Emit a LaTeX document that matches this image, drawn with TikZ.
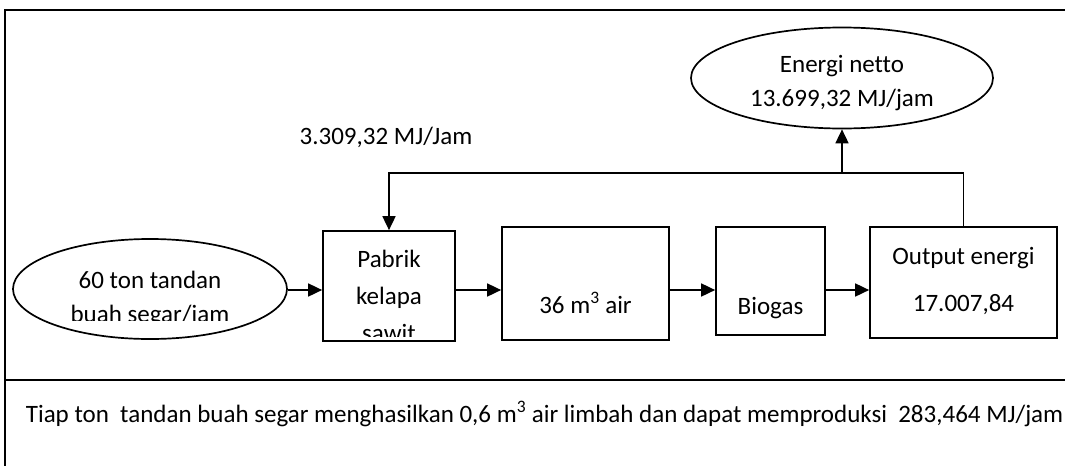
\documentclass[tikz,border=0pt]{standalone}
\usepackage{fontspec}
\setmainfont{Carlito}[Ligatures=NoCommon]
\usetikzlibrary{arrows.meta, shapes.geometric}

\begin{document}
\begin{tikzpicture}[x=1pt, y=-1pt, line width=1.7pt,
    every node/.style={font=\fontsize{25}{36}\selectfont, inner sep=0pt},
    teks/.style={anchor=base},
    kotak/.style={draw, rectangle},
    bulat/.style={draw, ellipse},
    panah/.style={-{Triangle[length=14pt, width=13pt]}}]
  \useasboundingbox (0,0) rectangle (1065,466);

  \draw (1065,10) -- (5,10) -- (5,466);
  \draw (5,380) -- (1065,380);

  \node[bulat, minimum width=274pt, minimum height=100pt] (tbs) at (150,289) {};
  \node[kotak, minimum width=132pt, minimum height=110pt] (pabrik) at (389,286) {};
  \node[kotak, minimum width=167pt, minimum height=113pt] (air) at (585.5,283.5) {};
  \node[kotak, minimum width=109pt, minimum height=108pt] (biogas) at (770.5,281) {};
  \node[kotak, minimum width=187pt, minimum height=111pt] (output) at (963.5,282.5) {};
  \node[bulat, minimum width=302pt, minimum height=101pt] (netto) at (842,78) {};

  \node[teks] (tbs-1) at (150,288) {60 ton tandan};
  \node[teks] (pabrik-1) at (389,267) {Pabrik};
  \node[teks] (pabrik-2) at (389,304) {kelapa};
  \begin{scope}
    \clip (20,240) rectangle (460,320);
    \node[teks] (tbs-2) at (150,322) {buah segar/jam};
  \end{scope}
  \begin{scope}
    \clip (330,320) rectangle (450,336);
    \node[teks] (pabrik-3) at (389,341) {sawit};
  \end{scope}
  \node[teks] (air-1) at (585.5,313) {36 m\textsuperscript{3} air};
  \node[teks] (biogas-1) at (770.5,314) {Biogas};
  \node[teks] (output-1) at (963.5,264) {Output energi};
  \node[teks] (output-2) at (963.5,311) {17.007,84};
  \node[teks] (netto-1) at (842,72) {Energi netto};
  \node[teks] (netto-2) at (842,106) {13.699,32 MJ/jam};
  \node[teks] (balik-1) at (386,144) {3.309,32 MJ/Jam};

  \coordinate (alir) at (0,290);
  \coordinate (balik) at (0,173);
  \draw[panah] (tbs.east |- alir) -- (pabrik.west |- alir);
  \draw[panah] (pabrik.east |- alir) -- (air.west |- alir);
  \draw[panah] (air.east |- alir) -- (biogas.west |- alir);
  \draw[panah] (biogas.east |- alir) -- (output.west |- alir);
  \draw[panah] (output.north) |- (balik -| pabrik.north) -- (pabrik.north);
  \draw[panah] (netto.south |- balik) -- (netto.south);

  \node[anchor=base west] (ket) at (25,422) {Tiap ton\ \ tandan buah segar menghasilkan 0,6 m\textsuperscript{3} air limbah dan dapat memproduksi\ \ 283,464 MJ/jam};
\end{tikzpicture}
\end{document}
